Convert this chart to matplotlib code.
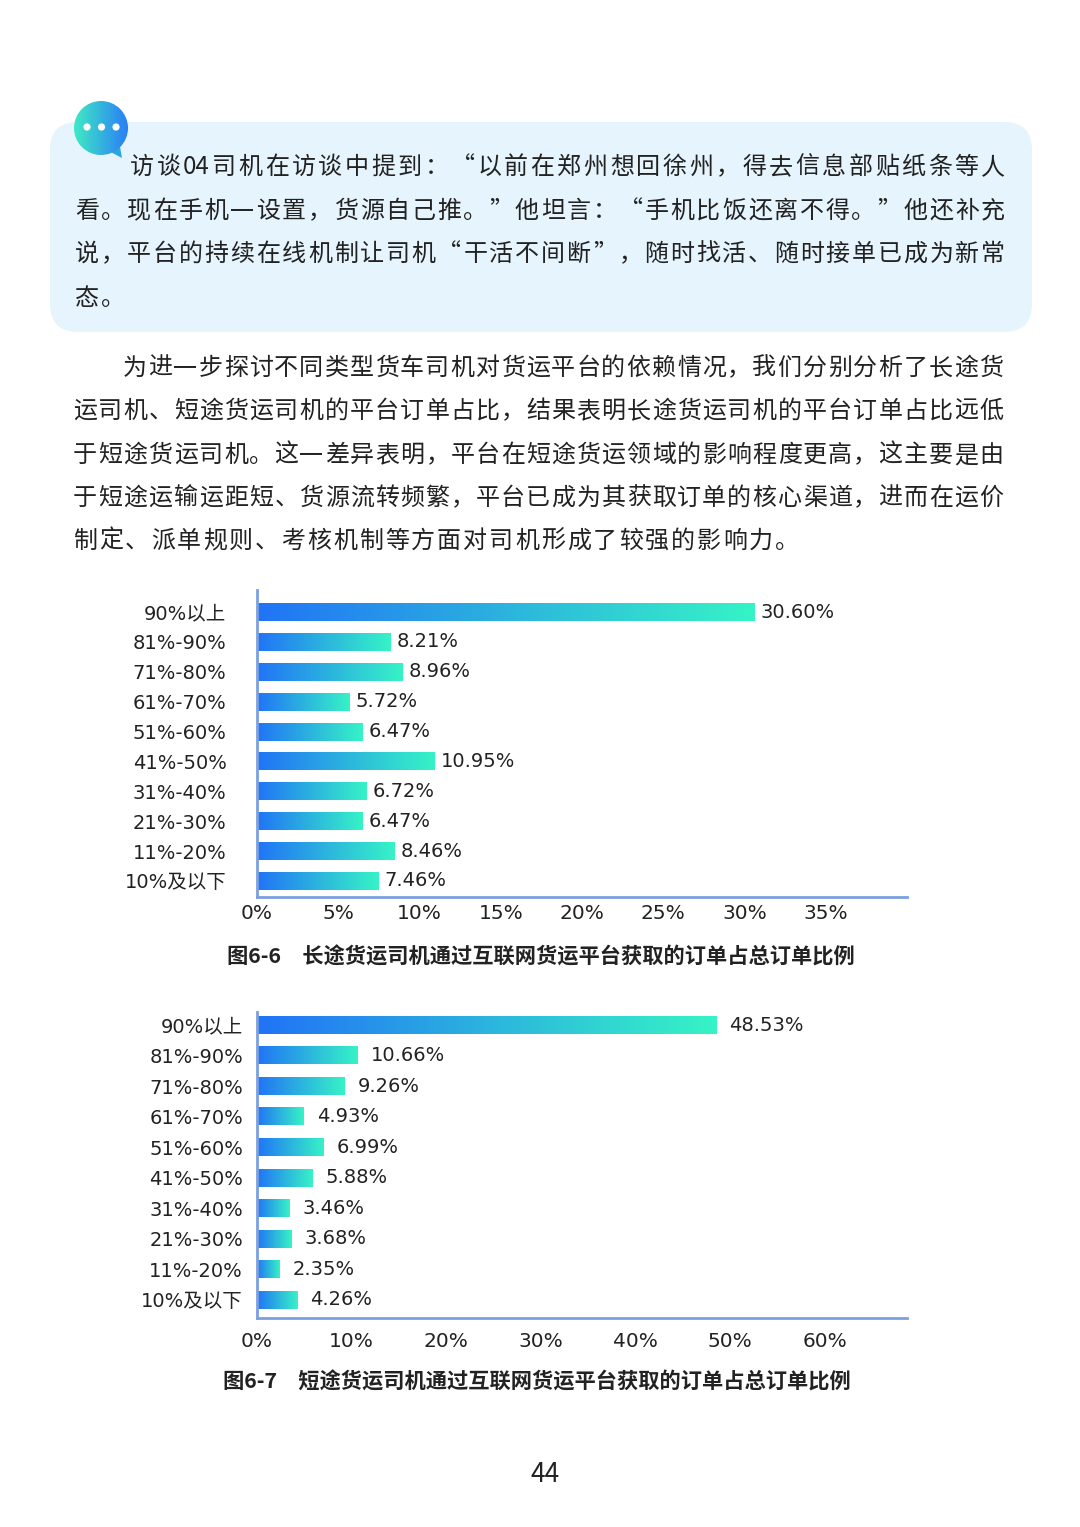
import re
import numpy as np
import matplotlib
matplotlib.use('Agg')
import matplotlib.pyplot as plt
from matplotlib.colors import LinearSegmentedColormap
from matplotlib.patches import FancyBboxPatch, Circle, Polygon

# data
categories = ['90%以上', '81%-90%', '71%-80%', '61%-70%', '51%-60%',
              '41%-50%', '31%-40%', '21%-30%', '11%-20%', '10%及以下']
long_haul = [30.60, 8.21, 8.96, 5.72, 6.47, 10.95, 6.72, 6.47, 8.46, 7.46]
short_haul = [48.53, 10.66, 9.26, 4.93, 6.99, 5.88, 3.46, 3.68, 2.35, 4.26]
long_ticks = [0, 5, 10, 15, 20, 25, 30, 35]
short_ticks = [0, 10, 20, 30, 40, 50, 60]

quote_lines = [
    '访谈04司机在访谈中提到：“以前在郑州想回徐州，得去信息部贴纸条等人',
    '看。现在手机一设置，货源自己推。”他坦言：“手机比饭还离不得。”他还补充',
    '说，平台的持续在线机制让司机“干活不间断”，随时找活、随时接单已成为新常',
    '态。',
]
para_lines = [
    '为进一步探讨不同类型货车司机对货运平台的依赖情况，我们分别分析了长途货',
    '运司机、短途货运司机的平台订单占比，结果表明长途货运司机的平台订单占比远低',
    '于短途货运司机。这一差异表明，平台在短途货运领域的影响程度更高，这主要是由',
    '于短途运输运距短、货源流转频繁，平台已成为其获取订单的核心渠道，进而在运价',
    '制定、派单规则、考核机制等方面对司机形成了较强的影响力。',
]
caption1 = '图6-6\u3000长途货运司机通过互联网货运平台获取的订单占总订单比例'
caption2 = '图6-7\u3000短途货运司机通过互联网货运平台获取的订单占总订单比例'
page_no = '44'

W, H = 1080, 1527
BODY = ['Noto Sans CJK SC', 'DejaVu Sans']
LABEL = ['DejaVu Sans', 'Noto Sans CJK SC']
NARROW = ['Liberation Sans Narrow', 'DejaVu Sans']
INK = '#222222'

fig = plt.figure(figsize=(W / 100, H / 100), dpi=100)
fig.patch.set_facecolor('white')
bg = fig.add_axes([0, 0, 1, 1])
bg.set_xlim(0, W)
bg.set_ylim(H, 0)
bg.axis('off')
renderer = fig.canvas.get_renderer()


def put_line(s, x0, y, x1=None, gap=1.5, size=17.3):
    # lay a line out token by token, stretched to x1 when given
    tokens = re.findall(r'[A-Za-z0-9]+|.', s)
    texts, widths = [], []
    for t in tokens:
        tx = bg.text(0, y, t, fontsize=size, family=BODY, color=INK,
                     ha='left', va='center')
        texts.append(tx)
        widths.append(tx.get_window_extent(renderer=renderer).width)
    if x1 is not None and len(tokens) > 1:
        gap = (x1 - x0 - sum(widths)) / (len(tokens) - 1)
    x = x0
    for tx, w in zip(texts, widths):
        tx.set_x(x)
        x += w + gap


# quote box
box = FancyBboxPatch((50 + 28, 122 + 28), 982 - 56, 210 - 56,
                     boxstyle='round,pad=28', fc='#e6f4fd', ec='none', zorder=0)
bg.add_patch(box)

# speech bubble icon
bub_cmap = LinearSegmentedColormap.from_list('bub', ['#3fe9c5', '#2a7ff5'])
tail = Polygon([(105, 149), (122, 158), (119, 141)], closed=True,
               fc='#2ba6e6', ec='none', zorder=1)
bg.add_patch(tail)
circ = Circle((101, 128), 27, fc='none', ec='none', zorder=2)
bg.add_patch(circ)
im = bg.imshow(np.linspace(0, 1, 64).reshape(1, -1), cmap=bub_cmap,
               extent=[74, 128, 155, 101], aspect='auto', zorder=2)
im.set_clip_path(circ)
for dx in (87, 101.5, 116):
    bg.add_patch(Circle((dx, 127), 3.6, fc='white', ec='none', zorder=3))
bg.set_xlim(0, W)
bg.set_ylim(H, 0)

put_line(quote_lines[0], 130, 167, 1005)
put_line(quote_lines[1], 75, 211, 1005)
put_line(quote_lines[2], 75, 254, 1005)
put_line(quote_lines[3], 75, 298)

put_line(para_lines[0], 123, 368, 1003)
put_line(para_lines[1], 73, 411, 1003)
put_line(para_lines[2], 73, 455, 1003)
put_line(para_lines[3], 73, 498, 1003)
put_line(para_lines[4], 73, 541, gap=2.0)

bar_cmap = LinearSegmentedColormap.from_list('bar', ['#2174f6', '#36f3c6'])
grad = np.linspace(0, 1, 128).reshape(1, -1)


def px_axes(l, t, r, b):
    return fig.add_axes([l / W, 1 - b / H, (r - l) / W, (b - t) / H])


def draw_chart(ax, values, ticks, xmax, ylim, height, lab_pad, val_off, xpad):
    ys = np.arange(len(values))
    bars = ax.barh(ys, values, height=height, color='none', zorder=2)
    for b in bars:
        ax.imshow(grad, cmap=bar_cmap, aspect='auto', zorder=2,
                  extent=[b.get_x(), b.get_x() + b.get_width(),
                          b.get_y() + b.get_height(), b.get_y()])
    for y, v in zip(ys, values):
        ax.annotate(f'{v:.2f}%', (v, y), xytext=(val_off, 0),
                    textcoords='offset pixels', va='center', ha='left',
                    fontsize=14, family=LABEL, color=INK)
    ax.set_xlim(0, xmax)
    ax.set_ylim(*ylim)
    ax.set_yticks(ys)
    ax.set_yticklabels(categories, fontsize=14, family=LABEL, color=INK)
    ax.set_xticks(ticks)
    ax.set_xticklabels([f'{t}%' for t in ticks], fontsize=14.5,
                       family=NARROW, color=INK)
    ax.tick_params(axis='y', length=0, pad=lab_pad)
    ax.tick_params(axis='x', length=0, pad=xpad)
    for s in ('top', 'right'):
        ax.spines[s].set_visible(False)
    for s in ('left', 'bottom'):
        ax.spines[s].set_color('#7b9fe0')
        ax.spines[s].set_linewidth(2)
        ax.spines[s].set_zorder(3)
    ax.set_facecolor('none')


ax1 = px_axes(257, 590, 907, 897)
draw_chart(ax1, long_haul, long_ticks, 40, (9.54, -0.74), 0.6, 22, 6, 5)
bg.text(541, 957, caption1, fontsize=15.3, fontweight='bold', family=BODY,
        color=INK, ha='center', va='center')

ax2 = px_axes(257, 1012, 907, 1318)
draw_chart(ax2, short_haul, short_ticks, 68.7, (9.59, -0.43), 0.57, 10, 13, 10)
bg.text(537, 1382, caption2, fontsize=15.3, fontweight='bold', family=BODY,
        color=INK, ha='center', va='center')

bg.text(545, 1475, page_no, fontsize=19, family=BODY, color=INK,
        ha='center', va='center')

fig.savefig('out.png', dpi=100)
